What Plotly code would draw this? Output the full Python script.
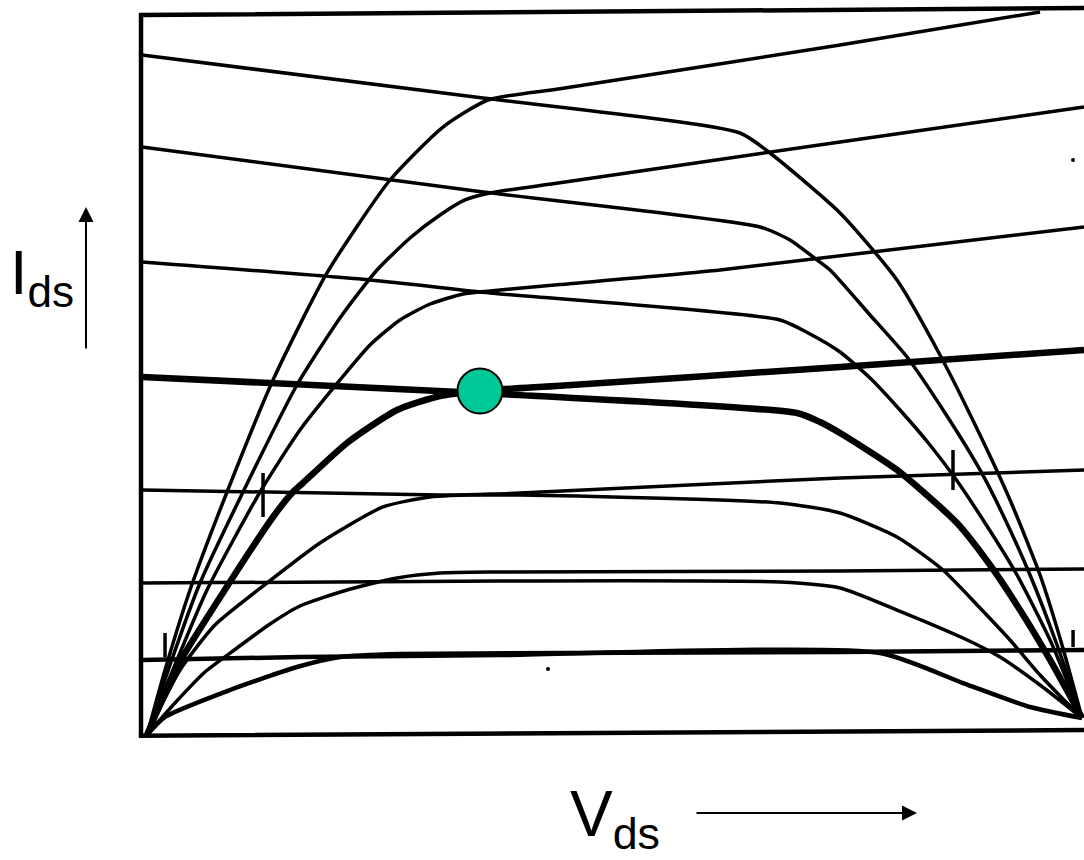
import plotly.graph_objects as go

# Overlaid nMOS / pMOS output characteristics of a CMOS inverter.
# Vds in % of VDD, Ids in % of full scale.

# nMOS curves (start at Vds = 0, flatten into slightly rising saturation lines)
n1_vds = [0, 1.93, 4.60, 8.56, 13.48, 19.25, 25.99, 31.66, 36.47, 44.17, 74.12, 95.51]
n1_ids = [0, 9.03, 20.14, 33.75, 49.31, 64.17, 77.08, 84.44, 88.19, 89.76, 95.83, 100.42]

n2_vds = [0, 2.46, 5.67, 10.27, 16.04, 20.64, 24.60, 28.13, 31.34, 34.01, 36.68, 44.17, 74.12, 100.21]
n2_ids = [0, 9.72, 21.11, 33.75, 48.61, 57.92, 64.58, 69.03, 72.22, 74.31, 75.28, 76.69, 82.36, 87.22]

n3_vds = [0, 2.99, 6.42, 12.09, 16.36, 20.64, 23.85, 27.06, 30.27, 33.80, 36.68, 44.17, 61.28, 100.21]
n3_ids = [0, 9.72, 20.14, 33.75, 42.36, 49.31, 54.17, 57.64, 59.86, 61.25, 61.67, 62.56, 64.58, 70.56]

n4_vds = [0, 3.32, 8.66, 13.48, 15.61, 16.68, 21.39, 26.74, 31.34, 35.61, 44.17, 74.12, 100.21]
n4_ids = [0, 9.72, 20.83, 30.28, 33.75, 35.00, 40.56, 45.14, 47.08, 47.78, 48.51, 51.11, 53.47]

n5_vds = [0, 3.53, 7.27, 12.83, 18.50, 25.24, 30.27, 39.89, 74.12, 100.21]
n5_ids = [0, 9.03, 15.28, 21.11, 26.67, 31.67, 33.06, 33.61, 35.69, 36.81]

n6_vds = [0, 2.99, 6.20, 9.63, 13.16, 16.36, 21.39, 26.74, 31.34, 37.75, 74.12, 100.21]
n6_ids = [0, 4.44, 8.75, 12.08, 15.42, 17.92, 20.14, 21.81, 22.50, 22.64, 22.78, 23.06]

n7_vds = [0, 1.93, 8.88, 16.04, 20.64, 27.06, 74.12, 100.21]
n7_ids = [0, 2.50, 6.25, 9.44, 10.83, 11.25, 11.53, 11.81]

# pMOS curves (saturation lines from the left, falling to zero current at VDD)
p1_vds = [-0.53, 35.94, 63.42, 66.63, 74.12, 80.21, 84.81, 89.09, 92.30, 95.51, 97.86, 100]
p1_ids = [94.44, 88.47, 83.61, 80.83, 72.50, 63.19, 52.78, 41.67, 32.64, 22.22, 12.50, 2.36]

p2_vds = [-0.53, 35.94, 65.56, 68.77, 71.23, 73.05, 77.33, 81.28, 85.35, 89.09, 91.55, 94.44, 97.33, 100]
p2_ids = [81.67, 75.42, 70.56, 68.75, 66.39, 64.58, 58.33, 52.50, 44.72, 36.81, 30.56, 22.22, 12.50, 2.36]

p3_vds = [-0.53, 23.85, 36.68, 67.70, 70.91, 74.12, 77.33, 80.53, 83.74, 86.42, 89.63, 93.05, 96.58, 100]
p3_ids = [65.69, 63.19, 61.39, 57.64, 55.69, 53.19, 49.58, 45.14, 40.28, 35.69, 29.44, 22.22, 13.19, 2.36]

p4_vds = [-0.53, 33.48, 37.75, 69.52, 71.98, 74.12, 80.21, 86.63, 90.16, 93.37, 96.58, 100]
p4_ids = [49.72, 47.64, 47.36, 44.72, 43.47, 41.94, 36.81, 29.44, 23.61, 17.36, 10.42, 2.36]

p5_vds = [-0.53, 31.34, 39.89, 67.70, 74.12, 80.21, 85.13, 89.09, 92.30, 95.51, 97.86, 100]
p5_ids = [34.03, 33.33, 33.33, 32.22, 30.83, 27.50, 22.92, 17.64, 13.19, 8.33, 5.14, 2.36]

p6_vds = [-0.53, 37.75, 67.70, 74.12, 80.21, 87.27, 91.23, 95.51, 100]
p6_ids = [21.11, 21.39, 21.25, 20.42, 17.36, 13.47, 10.83, 6.94, 2.36]

p7_vds = [-0.53, 16.36, 37.75, 78.40, 87.27, 94.44, 100]
p7_ids = [10.42, 10.83, 11.11, 11.39, 7.22, 3.89, 2.36]

# Operating point (switching threshold)
op_vds = [35.61]
op_ids = [47.78]

# Hand-drawn tick marks on curves: (vds, ids_low, ids_high)
tick_vds = [12.41, 86.20, 1.93, 99.04]
tick_lo = [30.28, 34.03, 10.83, 12.22]
tick_hi = [36.39, 39.58, 14.17, 14.58]

# Stray ink dots on the sheet
dot_vds = [99.04, 42.89]
dot_ids = [79.86, 9.17]

# Frame of the plot
frame_vds = [100.21, -0.64, -0.64, 100.21]
frame_ids = [100.97, 100.0, -0.1, 0.69]

THIN = 3.5
THICK = 6.5

curves = [
    (n1_vds, n1_ids, THIN), (n2_vds, n2_ids, THIN), (n3_vds, n3_ids, THIN),
    (n4_vds, n4_ids, THICK), (n5_vds, n5_ids, THIN), (n6_vds, n6_ids, THIN),
    (n7_vds, n7_ids, 4.5),
    (p1_vds, p1_ids, THIN), (p2_vds, p2_ids, THIN), (p3_vds, p3_ids, THIN),
    (p4_vds, p4_ids, THICK), (p5_vds, p5_ids, THIN), (p6_vds, p6_ids, THIN),
    (p7_vds, p7_ids, 4.5),
]

fig = go.Figure()

fig.add_trace(go.Scatter(x=frame_vds, y=frame_ids, mode="lines",
                         line=dict(color="black", width=4.5), hoverinfo="skip"))

for vx, iy, w in curves:
    fig.add_trace(go.Scatter(x=vx, y=iy, mode="lines",
                             line=dict(color="black", width=w, shape="spline", smoothing=0.6),
                             hoverinfo="skip"))

for v, lo, hi in zip(tick_vds, tick_lo, tick_hi):
    fig.add_trace(go.Scatter(x=[v, v], y=[lo, hi], mode="lines",
                             line=dict(color="black", width=3.5), hoverinfo="skip"))

fig.add_trace(go.Scatter(x=dot_vds, y=dot_ids, mode="markers",
                         marker=dict(size=4, color="black"), hoverinfo="skip"))

fig.add_trace(go.Scatter(x=op_vds, y=op_ids, mode="markers",
                         marker=dict(size=45, color="#00C896",
                                     line=dict(color="black", width=2)),
                         hoverinfo="skip"))

fig.update_layout(
    width=1084, height=860,
    margin=dict(l=0, r=0, t=0, b=0),
    paper_bgcolor="white", plot_bgcolor="white",
    showlegend=False,
    xaxis=dict(range=[-15.72, 100.21], visible=False, fixedrange=True),
    yaxis=dict(range=[-17.36, 102.08], visible=False, fixedrange=True),
    font=dict(family="Liberation Sans, Arial, sans-serif", color="black"),
)

# Axis labels with arrows
fig.add_annotation(xref="paper", yref="paper", x=8 / 1084, y=1 - 277 / 860,
                   xanchor="left", yanchor="middle", showarrow=False,
                   text="I<sub>ds</sub>", font=dict(size=63))
fig.add_annotation(xref="paper", yref="paper", x=86 / 1084, y=1 - 207 / 860,
                   ax=0, ay=143, showarrow=True, arrowhead=2, arrowsize=1.5,
                   arrowwidth=2, arrowcolor="black", text="", standoff=0)
fig.add_annotation(xref="paper", yref="paper", x=568 / 1084, y=1 - 818 / 860,
                   xanchor="left", yanchor="middle", showarrow=False,
                   text="V<sub>ds</sub>", font=dict(size=64))
fig.add_annotation(xref="paper", yref="paper", x=917 / 1084, y=1 - 813 / 860,
                   ax=-222, ay=0, showarrow=True, arrowhead=2, arrowsize=1.5,
                   arrowwidth=2, arrowcolor="black", text="", standoff=0)

fig.write_html("out.html")
